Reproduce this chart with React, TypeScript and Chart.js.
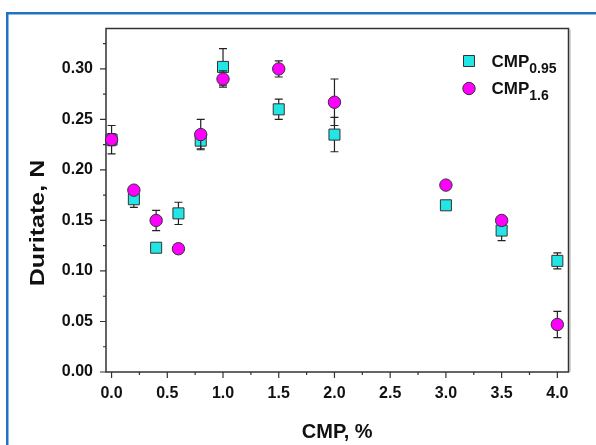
import React, { useEffect, useRef } from 'react';
import { Chart, registerables } from 'chart.js';

Chart.register(...registerables);

// ---- data ----
const xValues = [0, 0.2, 0.4, 0.6, 0.8, 1.0, 1.5, 2.0, 3.0, 3.5, 4.0];
const cmp095 = [0.23, 0.171, 0.123, 0.157, 0.229, 0.302, 0.26, 0.235, 0.165, 0.14, 0.11];
const cmp095Err = [0.006, 0.008, 0.003, 0.011, 0.008, 0.018, 0.01, 0.017, 0.003, 0.01, 0.008];
const cmp16 = [0.23, 0.18, 0.15, 0.122, 0.235, 0.29, 0.3, 0.267, 0.185, 0.15, 0.047];
const cmp16Err = [0.014, 0.003, 0.01, 0.003, 0.015, 0.008, 0.008, 0.023, 0.003, 0.003, 0.013];
const seriesBase = ['CMP', 'CMP'];
const seriesSub = ['0.95', '1.6'];
const xTitle = 'CMP, %';
const yTitle = 'Duritate, N';
const xMin = -0.05;
const xMax = 4.1;
const yMin = 0;
const yMax = 0.34;

const FONT = '"Liberation Sans", Arial, sans-serif';
const CYAN = '#22e6e6';
const MAGENTA = '#ff00ff';
const EDGE = '#333333';
const errs = [cmp095Err, cmp16Err];

const decoPlugin = {
  id: 'deco',
  beforeDraw(chart: any) {
    const ctx = chart.ctx;
    ctx.save();
    ctx.fillStyle = '#ffffff';
    ctx.fillRect(0, 0, chart.width, chart.height);
    ctx.strokeStyle = '#1f74c2';
    ctx.lineWidth = 2.5;
    ctx.beginPath();
    ctx.moveTo(7.25, chart.height + 2);
    ctx.lineTo(7.25, 13.25);
    ctx.lineTo(chart.width + 2, 13.25);
    ctx.stroke();
    ctx.restore();
  },
  beforeDatasetsDraw(chart: any) {
    const ctx = chart.ctx;
    const { left, right, top, bottom } = chart.chartArea;
    const xs = chart.scales.x;
    const ys = chart.scales.y;
    ctx.save();
    // frame
    ctx.strokeStyle = EDGE;
    ctx.lineWidth = 1.5;
    ctx.strokeRect(left, top, right - left, bottom - top);
    ctx.strokeStyle = 'rgba(120,120,120,0.6)';
    ctx.lineWidth = 1;
    ctx.beginPath();
    ctx.moveTo(right + 1.5, top + 1);
    ctx.lineTo(right + 1.5, bottom);
    ctx.stroke();
    // ticks
    ctx.strokeStyle = EDGE;
    ctx.lineWidth = 1.2;
    ctx.beginPath();
    const xt = xs.ticks.map((t: any) => t.value);
    xt.forEach((v: number, i: number) => {
      const px = xs.getPixelForValue(v);
      ctx.moveTo(px, bottom);
      ctx.lineTo(px, bottom + 6);
      if (i < xt.length - 1) {
        const m = xs.getPixelForValue((v + xt[i + 1]) / 2);
        ctx.moveTo(m, bottom);
        ctx.lineTo(m, bottom + 3);
      }
    });
    const yt = ys.ticks.map((t: any) => t.value);
    yt.forEach((v: number, i: number) => {
      const py = ys.getPixelForValue(v);
      ctx.moveTo(left, py);
      ctx.lineTo(left - 6, py);
      const next = i < yt.length - 1 ? yt[i + 1] : v + (v - yt[i - 1]);
      const mv = (v + next) / 2;
      if (mv <= yMax) {
        const m = ys.getPixelForValue(mv);
        ctx.moveTo(left, m);
        ctx.lineTo(left - 3, m);
      }
    });
    ctx.stroke();
    // titles
    ctx.fillStyle = '#111';
    ctx.font = `bold 20px ${FONT}`;
    ctx.textAlign = 'center';
    ctx.textBaseline = 'alphabetic';
    ctx.fillText(xTitle, (left + right) / 2, 438);
    ctx.save();
    ctx.translate(44, 223);
    ctx.rotate(-Math.PI / 2);
    ctx.scale(1.25, 1);
    ctx.font = `bold 20px ${FONT}`;
    ctx.fillText(yTitle, 0, 0);
    ctx.restore();
    // legend
    const rows = [61, 88.5];
    const baselines = [66.7, 94];
    rows.forEach((cy, i) => {
      ctx.beginPath();
      if (i === 0) {
        ctx.rect(469 - 5.5, cy - 5.5, 11, 11);
        ctx.fillStyle = CYAN;
      } else {
        ctx.arc(469, cy, 6.2, 0, Math.PI * 2);
        ctx.fillStyle = MAGENTA;
      }
      ctx.fill();
      ctx.lineWidth = 1;
      ctx.strokeStyle = EDGE;
      ctx.stroke();
      ctx.fillStyle = '#111';
      ctx.textAlign = 'left';
      ctx.font = `bold 17px ${FONT}`;
      ctx.fillText(seriesBase[i], 491.5, baselines[i]);
      const w = ctx.measureText(seriesBase[i]).width;
      ctx.font = `bold 14px ${FONT}`;
      ctx.fillText(seriesSub[i], 491.5 + w, baselines[i] + 5.8);
    });
    ctx.restore();
  },
  beforeDatasetDraw(chart: any, args: any) {
    const i = args.index;
    const e = errs[i];
    if (!e) return;
    const ctx = chart.ctx;
    const xs = chart.scales.x;
    const ys = chart.scales.y;
    const vals = i === 0 ? cmp095 : cmp16;
    ctx.save();
    ctx.strokeStyle = '#222';
    ctx.lineWidth = 1.2;
    ctx.beginPath();
    xValues.forEach((xv, j) => {
      const px = xs.getPixelForValue(xv);
      const pTop = ys.getPixelForValue(vals[j] + e[j]);
      const pBot = ys.getPixelForValue(vals[j] - e[j]);
      ctx.moveTo(px, pTop);
      ctx.lineTo(px, pBot);
      ctx.moveTo(px - 4, pTop);
      ctx.lineTo(px + 4, pTop);
      ctx.moveTo(px - 4, pBot);
      ctx.lineTo(px + 4, pBot);
    });
    ctx.stroke();
    ctx.restore();
  },
};

export default function App() {
  const ref = useRef<HTMLCanvasElement>(null);
  useEffect(() => {
    if (!ref.current) return;
    const chart = new Chart(ref.current, {
      type: 'scatter',
      data: {
        datasets: [
          {
            label: 'CMP0.95',
            data: xValues.map((x, j) => ({ x, y: cmp095[j] })),
            pointStyle: 'rect',
            pointRadius: 7.8,
            backgroundColor: CYAN,
            borderColor: EDGE,
            borderWidth: 1,
            order: 2,
            clip: false,
          },
          {
            label: 'CMP1.6',
            data: xValues.map((x, j) => ({ x, y: cmp16[j] })),
            pointStyle: 'circle',
            pointRadius: 6.2,
            backgroundColor: MAGENTA,
            borderColor: EDGE,
            borderWidth: 1,
            order: 1,
            clip: false,
          },
        ],
      },
      options: {
        responsive: false,
        animation: false,
        devicePixelRatio: 1,
        layout: { padding: { left: 0, top: 28.5, right: 27.5, bottom: 0 } },
        plugins: { legend: { display: false }, tooltip: { enabled: false } },
        scales: {
          x: {
            type: 'linear',
            min: xMin,
            max: xMax,
            afterFit: (s: any) => { s.height = 73; },
            grid: { display: false, drawTicks: false },
            border: { display: false },
            ticks: {
              stepSize: 0.5,
              includeBounds: false,
              padding: 12,
              color: '#111',
              font: { family: FONT, size: 16, weight: 'bold' },
              callback: (v: any) => Number(v).toFixed(1),
            },
          },
          y: {
            type: 'linear',
            min: yMin,
            max: yMax,
            afterFit: (s: any) => { s.width = 106; },
            grid: { display: false, drawTicks: false },
            border: { display: false },
            ticks: {
              stepSize: 0.05,
              includeBounds: false,
              padding: 13,
              color: '#111',
              font: { family: FONT, size: 16, weight: 'bold' },
              callback: (v: any) => Number(v).toFixed(2),
            },
          },
        },
      },
      plugins: [decoPlugin],
    } as any);
    return () => chart.destroy();
  }, []);
  return (
    <canvas
      ref={ref}
      width={596}
      height={445}
      style={{ position: 'absolute', left: 0, top: 0, display: 'block' }}
    />
  );
}
